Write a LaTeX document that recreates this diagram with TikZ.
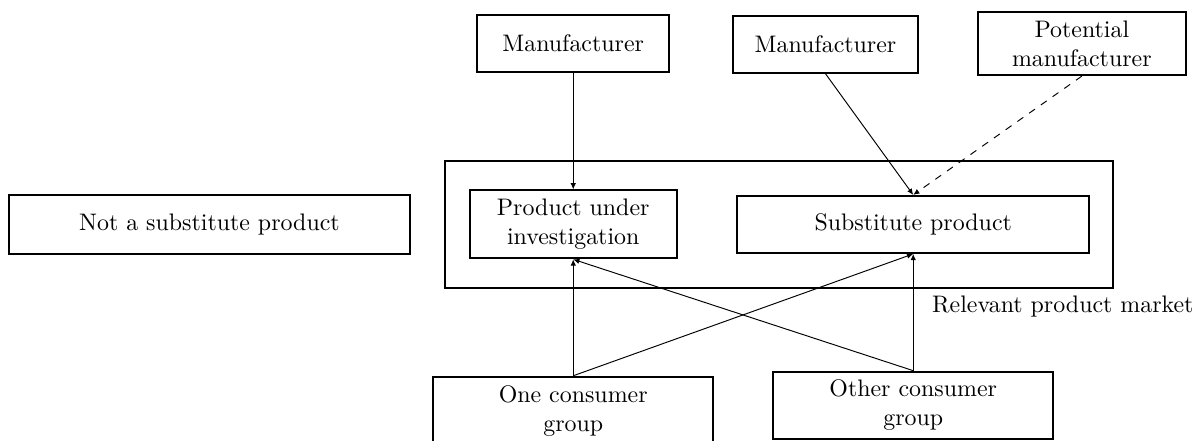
\documentclass[tikz,border=0pt]{standalone}
\usepackage{xcolor}
\usepackage{tikz}
\usetikzlibrary{arrows.meta,positioning}

\begin{document}
\begin{tikzpicture}[
  box/.style={draw, thick, align=center, inner sep=3pt, minimum height=8.4mm, minimum width=#1},
  box/.default=30mm,
  arr/.style={-{Latex[length=2.6pt,width=2.3pt]}}]
\useasboundingbox (0,0) rectangle (17.574,-6.485);
\node[box=98.2mm, minimum height=18.7mm] (market) at (11.46,-3.30) {};
\node[box=28.2mm] (man1) at (8.43,-0.64) {Manufacturer};
\node[box=27.2mm] (man2) at (12.14,-0.65) {Manufacturer};
\node[box=30.6mm, minimum height=9.3mm] (pot) at (15.91,-0.64) {Potential\\manufacturer};
\node[box=59.0mm, minimum height=8.7mm] (notsub) at (3.08,-3.30) {Not a substitute product};
\node[box=30.4mm, minimum height=10mm] (piu) at (8.43,-3.30) {Product under\\investigation};
\node[box=51.8mm] (subst) at (13.43,-3.30) {Substitute product};
\node[box=41.2mm, minimum height=10mm] (one) at (8.43,-6.04) {One consumer\\group};
\node[box=41.2mm, minimum height=9.9mm] (other) at (13.43,-5.96) {Other consumer\\group};
\node (mlabel) at (15.63,-4.51) {Relevant product market};
\draw[arr] (man1) -- (piu);
\draw[arr] (man2.south) -- (subst.north);
\draw[arr, dashed] (pot.south) -- (subst.north);
\draw[arr] (one.north) -- (piu.south);
\draw[arr] (one.north) -- (subst.south);
\draw[arr] (other.north) -- (subst.south);
\draw[arr] (other.north) -- (piu.south);
\end{tikzpicture}
\end{document}
